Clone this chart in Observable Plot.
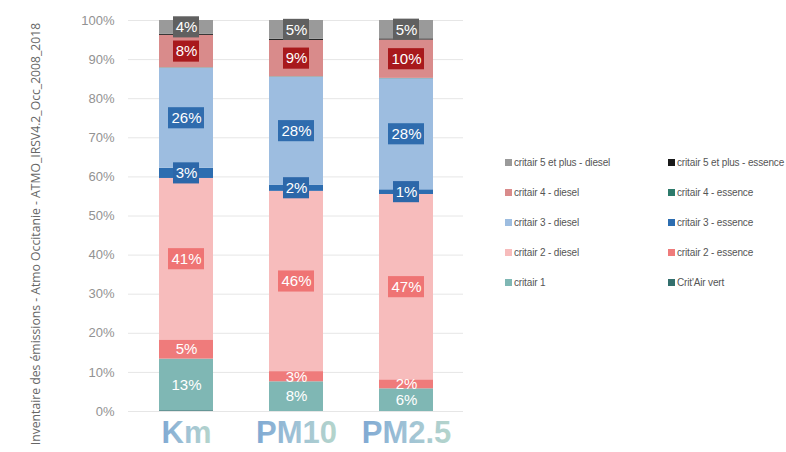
<!DOCTYPE html>
<html>
<head>
<meta charset="utf-8">
<script src="https://cdn.jsdelivr.net/npm/d3@7"></script>
<script src="https://cdn.jsdelivr.net/npm/@observablehq/plot@0.6"></script>
<style>
  html, body { margin: 0; padding: 0; background: #fff; overflow: hidden; }
  #wrap { position: relative; width: 786px; height: 452px; }
  #source {
    position: absolute; left: 35px; top: 234px;
    transform: translate(-50%, -50%) rotate(-90deg);
    white-space: nowrap; font-family: "Open Sans", sans-serif; font-size: 12.2px; color: #666;
  }
  #legend {
    position: absolute; left: 505px; top: 147px;
    display: grid; grid-template-columns: 163px 140px; grid-auto-rows: 30px;
    font-family: "Liberation Sans Narrow", "Arial Narrow", "Liberation Sans", sans-serif;
    font-size: 10px; color: #555; letter-spacing: -0.15px;
  }
  #legend .item { display: flex; align-items: center; white-space: nowrap; overflow: hidden; }
  #legend .sw { width: 7px; height: 7px; margin-right: 2px; flex: none; }
</style>
</head>
<body>
<div id="wrap">
  <div id="chart"></div>
  <div id="source">Inventaire des émissions - Atmo Occitanie - ATMO_IRSV4.2_Occ_2008_2018</div>
  <div id="legend"></div>
</div>
<script>
// ---- Data ----
const categories = ["Km", "PM10", "PM2.5"];
const series = [
  "Crit'Air vert",
  "critair 1",
  "critair 2 - essence",
  "critair 2 - diesel",
  "critair 3 - essence",
  "critair 3 - diesel",
  "critair 4 - essence",
  "critair 4 - diesel",
  "critair 5 et plus - essence",
  "critair 5 et plus - diesel"
];
const critAirVert      = [0.2, 0.0, 0.0];
const critair1         = [13.2, 7.6, 5.8];
const critair2Essence  = [4.9, 2.6, 2.3];
const critair2Diesel   = [41.3, 46.1, 47.4];
const critair3Essence  = [2.6, 1.6, 1.2];
const critair3Diesel   = [25.6, 27.6, 28.4];
const critair4Essence  = [0.1, 0.1, 0.1];
const critair4Diesel   = [8.3, 9.3, 9.8];
const critair5Essence  = [0.3, 0.3, 0.3];
const critair5Diesel   = [3.5, 4.8, 4.7];
const yTicks = [0, 10, 20, 30, 40, 50, 60, 70, 80, 90, 100];

const seriesValues = [critAirVert, critair1, critair2Essence, critair2Diesel, critair3Essence,
  critair3Diesel, critair4Essence, critair4Diesel, critair5Essence, critair5Diesel];

// ---- Styles ----
const seriesColors = ["#336f6d", "#7fb7b4", "#ef7b7b", "#f7bcbc", "#2d6db0",
  "#9dbde0", "#2d7a6b", "#d98b8b", "#1a1a1a", "#9a9a9a"];
const labelBox = {
  "critair 2 - diesel": "#ef7474",
  "critair 3 - essence": "#2c67a9",
  "critair 3 - diesel": "#2f6cae",
  "critair 4 - diesel": "#a8191c",
  "critair 5 et plus - diesel": "#606060"
};
const noLabel = new Set(["Crit'Air vert", "critair 4 - essence", "critair 5 et plus - essence"]);

// ---- Derived table ----
const rows = [];
categories.forEach((cat, i) => {
  let acc = 0;
  series.forEach((s, j) => {
    const v = seriesValues[j][i];
    rows.push({cat, series: s, value: v, y1: acc, y2: acc + v, mid: acc + v / 2});
    acc += v;
  });
});
const labels = rows.filter(d => !noLabel.has(d.series) && d.value >= 0.5)
  .map(d => ({...d, text: Math.round(d.value) + "%", box: labelBox[d.series]}));
const boxes1 = labels.filter(d => d.box && d.text.length === 2);
const boxes2 = labels.filter(d => d.box && d.text.length === 3);
const boxH = 2.7;

const chart = Plot.plot({
  width: 786,
  height: 452,
  marginLeft: 128,
  marginRight: 323,
  marginTop: 20,
  marginBottom: 41,
  style: {fontFamily: "Liberation Sans, Arial, sans-serif", fontSize: "13px", color: "#929292", background: "transparent"},
  x: {domain: categories, paddingInner: 0.51, paddingOuter: 0.27, axis: null},
  y: {domain: [0, 100], ticks: yTicks, tickFormat: d => d + "%", tickSize: 0, tickPadding: 14, label: null},
  color: {domain: series, range: seriesColors},
  marks: [
    Plot.ruleY(yTicks, {stroke: "#e6e6e6", strokeWidth: 1}),
    Plot.barY(rows, {x: "cat", y1: "y1", y2: "y2", fill: "series"}),
    Plot.barY(boxes1, {x: "cat", y1: d => d.mid - boxH, y2: d => d.mid + boxH,
      fill: {value: d => d.box, scale: null}, insetLeft: 14, insetRight: 14}),
    Plot.barY(boxes2, {x: "cat", y1: d => d.mid - boxH, y2: d => d.mid + boxH,
      fill: {value: d => d.box, scale: null}, insetLeft: 9, insetRight: 9}),
    Plot.text(labels, {x: "cat", y: "mid", text: "text", fill: "white", fontSize: 15,
      fontFamily: "Liberation Sans, Arial, sans-serif"}),
    Plot.text(categories, {x: d => d, frameAnchor: "bottom", dy: 31, text: d => d,
      fontSize: 31, fontWeight: "bold", fill: "url(#xgrad)",
      fontFamily: "Liberation Sans, Arial, sans-serif"})
  ]
});

// gradient for category labels
const defs = d3.select(chart).insert("defs", ":first-child");
const grad = defs.append("linearGradient").attr("id", "xgrad")
  .attr("x1", 0).attr("x2", 1).attr("y1", 0).attr("y2", 0);
grad.append("stop").attr("offset", "0%").attr("stop-color", "#7fa9d3");
grad.append("stop").attr("offset", "50%").attr("stop-color", "#9fc2d6");
grad.append("stop").attr("offset", "100%").attr("stop-color", "#b5d5cb");

document.getElementById("chart").appendChild(chart);

// legend (two columns: diesel / essence)
const legendOrder = [
  "critair 5 et plus - diesel", "critair 5 et plus - essence",
  "critair 4 - diesel", "critair 4 - essence",
  "critair 3 - diesel", "critair 3 - essence",
  "critair 2 - diesel", "critair 2 - essence",
  "critair 1", "Crit'Air vert"
];
const legend = d3.select("#legend");
legendOrder.forEach(s => {
  const it = legend.append("div").attr("class", "item");
  it.append("span").attr("class", "sw").style("background", seriesColors[series.indexOf(s)]);
  it.append("span").text(s);
});
</script>
</body>
</html>
